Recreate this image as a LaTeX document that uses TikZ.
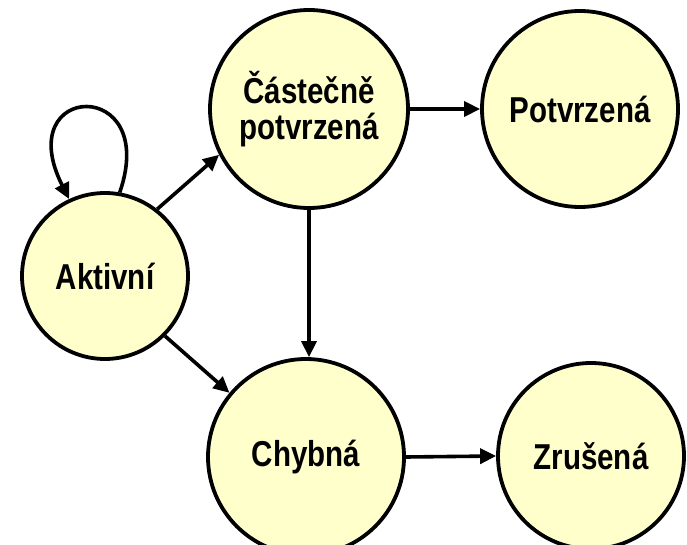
\documentclass[tikz,border=0pt]{standalone}
\usepackage{fontspec}
% condensed bold sans for the state labels
\setmainfont{Liberation Sans}[FakeStretch=0.82]
\usetikzlibrary{arrows.meta}
\definecolor{statefill}{RGB}{255,255,204}
\begin{document}
\begin{tikzpicture}[x=1pt,y=1pt,
  state/.style={circle, draw=black, line width=3.8pt, fill=statefill,
    inner sep=0pt, align=center, font=\fontsize{36}{36}\selectfont\bfseries},
  trans/.style={line width=3.6pt, -{Triangle[length=16pt,width=15pt]}}]
  \useasboundingbox (0,0) rectangle (687,544);
  % states
  \node[state, minimum size=166pt] (A) at (105,268) {Aktivní};
  \node[state, minimum size=198pt] (C) at (309,435) {Částečně\\potvrzená};
  \node[state, minimum size=196pt] (P) at (580,435) {Potvrzená};
  \node[state, minimum size=196pt] (H) at (306,87) {Chybná};
  \node[state, minimum size=186pt] (Z) at (591,88) {Zrušená};
  % transitions
  \draw[trans] (A.80) .. controls (160,468) and (10,462) .. (A.115);
  \draw[trans] (A.52) -- (C.207);
  \draw[trans] (A.-45) -- (H.140);
  \draw[trans] (C.east) -- (P.west);
  \draw[trans] (C.south) -- (C.south |- H.north);
  \draw[trans] (H.east) -- (Z.west);
\end{tikzpicture}
\end{document}
